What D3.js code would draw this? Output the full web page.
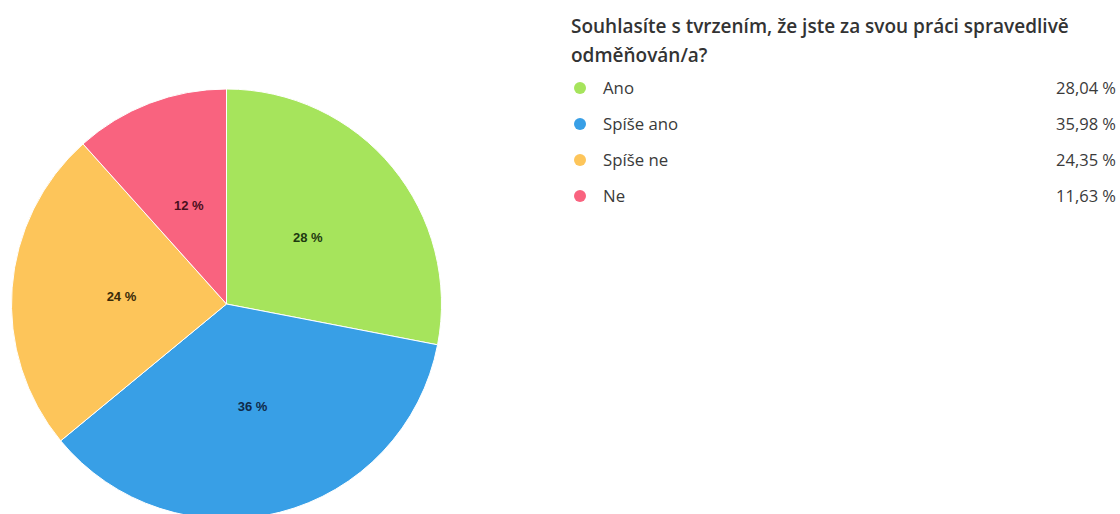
<!DOCTYPE html>
<html><head><meta charset="utf-8">
<script src="https://cdn.jsdelivr.net/npm/d3@7"></script>
<style>body{margin:0;background:#fff}svg{display:block}</style>
</head><body>
<svg id="c" width="1120" height="514"></svg>
<script>
const categories = ["Ano", "Spíše ano", "Spíše ne", "Ne"];
const values = [28.04, 35.98, 24.35, 11.63];
const pieLabels = ["28 %", "36 %", "24 %", "12 %"];
const valueLabels = ["28,04 %", "35,98 %", "24,35 %", "11,63 %"];
const colors = ["#a6e45c", "#389fe6", "#fdc55a", "#f9637f"];
const labelColors = ["#1e3a10", "#0f2a4a", "#3a2a08", "#4a0f1c"];
const titleLines = ["Souhlasíte s tvrzením, že jste za svou práci spravedlivě", "odměňován/a?"];

const svg = d3.select("#c");
const cx = 226.5, cy = 304, r = 215;
const data = categories.map((c, i) => ({c, v: values[i], i}));
const pie = d3.pie().sort(null).value(d => d.v);
const arc = d3.arc().innerRadius(0).outerRadius(r);
const labelArc = d3.arc().innerRadius(r * 0.49).outerRadius(r * 0.49);
const g = svg.append("g").attr("transform", `translate(${cx},${cy})`);
const arcs = pie(data);
g.selectAll("path").data(arcs).join("path")
  .attr("d", arc).attr("fill", d => colors[d.data.i])
  .attr("stroke", "#fff").attr("stroke-width", 1);
g.selectAll("text").data(arcs).join("text")
  .attr("transform", d => `translate(${labelArc.centroid(d)})`)
  .attr("text-anchor", "middle").attr("dy", "0.35em")
  .attr("font-family", "Liberation Sans, Arial, sans-serif")
  .attr("font-weight", "bold").attr("font-size", 13)
  .attr("fill", d => labelColors[d.data.i])
  .text(d => pieLabels[d.data.i]);

const tf = "'Open Sans', sans-serif";
svg.selectAll("text.title").data(titleLines).join("text").attr("class", "title")
  .attr("x", 571).attr("y", (d, i) => 33 + i * 29)
  .attr("font-family", tf).attr("font-weight", 600).attr("font-size", 19)
  .attr("fill", "#333").text(d => d);

const y = d3.scalePoint().domain(categories).range([88, 196]);
const lg = svg.append("g");
const rows = lg.selectAll("g").data(data).join("g")
  .attr("transform", d => `translate(0,${y(d.c)})`);
rows.append("circle").attr("cx", 580).attr("cy", 0).attr("r", 6).attr("fill", d => colors[d.i]);
rows.append("text").attr("x", 603).attr("dy", "0.35em")
  .attr("font-family", tf).attr("font-size", 16.8).attr("fill", "#3a3a3a").text(d => d.c);
rows.append("text").attr("x", 1116).attr("dy", "0.35em").attr("text-anchor", "end")
  .attr("font-family", tf).attr("font-size", 16.5).attr("fill", "#3a3a3a").text(d => valueLabels[d.i]);
</script>
</body></html>
